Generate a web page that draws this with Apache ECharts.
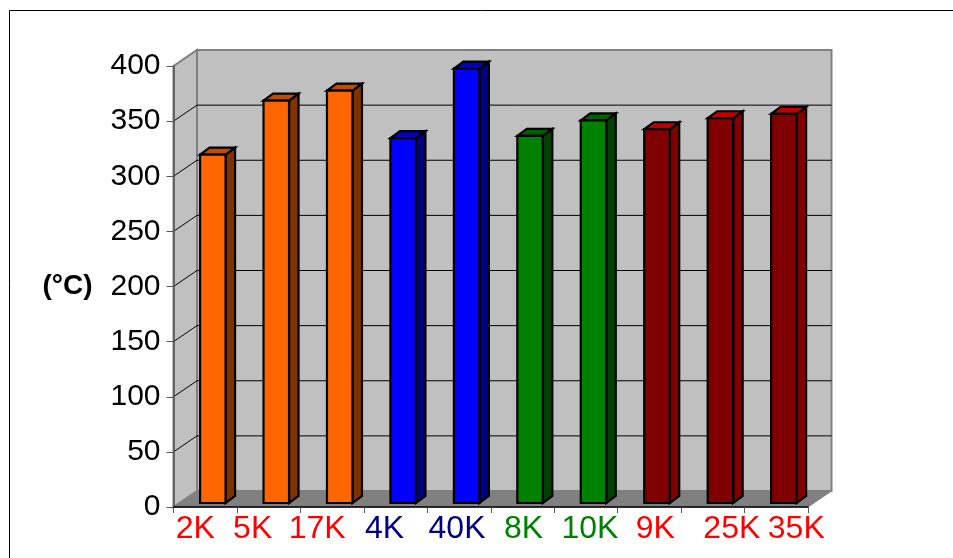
<!DOCTYPE html>
<html><head><meta charset="utf-8">
<style>html,body{margin:0;padding:0;background:#fff}#c{width:953px;height:558px}</style>
<script src="https://cdn.jsdelivr.net/npm/echarts@6/dist/echarts.min.js"></script>
</head><body><div id="c"></div>
<script>
const categories = ['2K','5K','17K','4K','40K','8K','10K','9K','25K','35K'];
const values = [316,365,374,331,394,333,347,339,349,353];
const groups = [0,0,0,1,1,2,2,3,3,3];
const yTicks = [0,50,100,150,200,250,300,350,400];
const labelColors = ['#FF0000','#FF0000','#FF0000','#000080','#000080','#008000','#008000','#FF0000','#FF0000','#FF0000'];
const labelShift = [-10,-16,-15,-11,-2,1,4,6,19,20];
const palettes = [
  {front:'#FF6600',side:'#803300',top:'#BF4D00'},
  {front:'#0000FF',side:'#000080',top:'#0000BF'},
  {front:'#008000',side:'#004000',top:'#006000'},
  {front:'#800000',side:'#800000',top:'#C00000'}
];
const G = {left:173.5,right:145,top:66,bottom:51};
const DX = 23.5, DY = -16;      // wall depth
const BOX = 7.6, BOY = -4, BW = 25.5, BDX = 9.5, BDY = -7; // bar inset + bar depth

const chart = echarts.init(document.getElementById('c'), null, {renderer:'canvas'});

function wallsRender(params, api){
  const a = api.coord([0,0]);
  const band = api.size([1,0])[0];
  const x0 = a[0]-band/2, y0 = a[1];
  const x1 = x0+band*categories.length, yT = api.coord([0,400])[1];
  const grey = {stroke:'#808080',lineWidth:2};
  const kids = [
    {type:'polygon',shape:{points:[[x0+DX,yT+DY],[x1+DX,yT+DY],[x1+DX,y0+DY],[x0+DX,y0+DY]]},style:{fill:'#C0C0C0',...grey}},
    {type:'polygon',shape:{points:[[x0,yT],[x0+DX,yT+DY],[x0+DX,y0+DY],[x0,y0]]},style:{fill:'#C0C0C0',...grey}},
    {type:'polygon',shape:{points:[[x0,y0],[x0+DX,y0+DY],[x1+DX,y0+DY],[x1,y0]]},style:{fill:'#808080',stroke:'#808080',lineWidth:1}}
  ];
  yTicks.slice(1,-1).forEach(t=>{
    const y = api.coord([0,t])[1];
    kids.push({type:'polyline',shape:{points:[[x0,y],[x0+DX,y+DY],[x1+DX,y+DY]]},style:{fill:null,stroke:'#000',lineWidth:1}});
  });
  return {type:'group',children:kids};
}
function barRender(params, api){
  const i = api.value(0), p = palettes[groups[i]];
  const t = api.coord([i,api.value(1)]), b = api.coord([i,0]);
  const l = t[0]-BW/2+BOX, r = l+BW, top = t[1]+BOY, bot = b[1]+BOY;
  const s = {stroke:'#000',lineWidth:2.2,lineJoin:'miter'};
  return {type:'group',children:[
    {type:'polygon',shape:{points:[[r,top],[r+BDX,top+BDY],[r+BDX,bot+BDY],[r,bot]]},style:{fill:p.side,...s}},
    {type:'polygon',shape:{points:[[l,top],[l+BDX,top+BDY],[r+BDX,top+BDY],[r,top]]},style:{fill:p.top,...s}},
    {type:'rect',shape:{x:l,y:top,width:BW,height:bot-top},style:{fill:p.front,...s}}
  ]};
}
chart.setOption({
  animation:false,
  backgroundColor:'#fff',
  textStyle:{fontFamily:'"Liberation Sans",Arial,sans-serif'},
  graphic:[
    {type:'polyline',silent:true,shape:{points:[[9.5,558],[9.5,10.5],[953,10.5]]},style:{fill:null,stroke:'#000',lineWidth:1}},
    {type:'text',x:67.5,y:286,style:{text:'(°C)',font:'bold 28px "Liberation Sans",Arial,sans-serif',fill:'#000',textAlign:'center',textVerticalAlign:'middle'}}
  ],
  grid:{left:G.left,right:G.right,top:G.top,bottom:G.bottom,containLabel:false},
  xAxis:{type:'category',
    data:categories.map((c,i)=>{
      const s = labelShift[i]*2;
      return {value:c,textStyle:{color:labelColors[i],padding:s>=0?[0,0,0,s]:[0,-s,0,0]}};
    }),
    axisLine:{show:true,lineStyle:{color:'#000',width:1.5}},
    axisTick:{show:true,length:6,lineStyle:{color:'#555'},alignWithLabel:false},
    axisLabel:{interval:0,fontSize:32,margin:6,hideOverlap:false},
    splitLine:{show:false},z:5},
  yAxis:{type:'value',min:0,max:400,interval:50,
    axisLine:{show:true,lineStyle:{color:'#555',width:1.5}},
    axisTick:{show:true,length:7,lineStyle:{color:'#555'}},
    axisLabel:{fontSize:30,color:'#000',margin:13,showMinLabel:true,showMaxLabel:true},
    splitLine:{show:false},z:5},
  series:[
    {type:'custom',renderItem:wallsRender,data:[[0,0]],encode:{x:0,y:1},clip:false,silent:true,z:1},
    {type:'custom',renderItem:barRender,data:values.map((v,i)=>[i,v]),encode:{x:0,y:1},clip:false,silent:true,z:2}
  ]
});
</script></body></html>
